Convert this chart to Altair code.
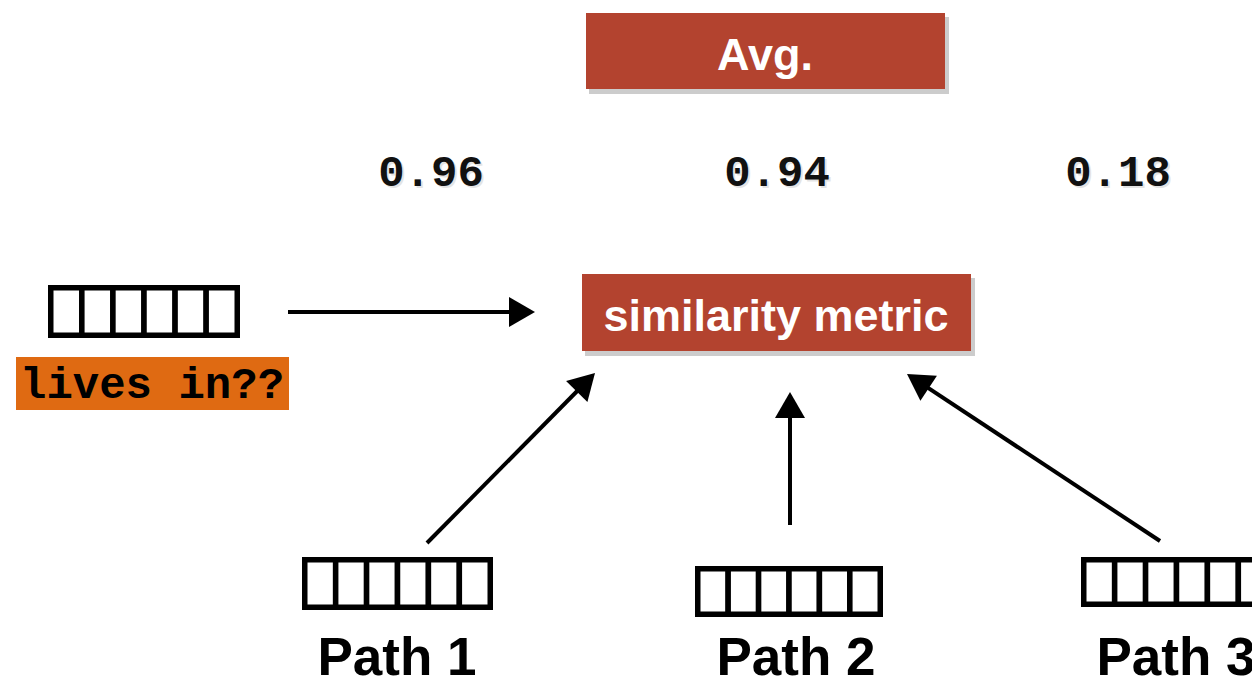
import math
import altair as alt
import pandas as pd

# ---- diagram content (screen-pixel coordinates) ----
box_labels = ["Avg.", "similarity metric"]
box_x1 = [586, 582]
box_x2 = [945, 971]
box_y1 = [13, 274]
box_y2 = [89, 351]
box_text_x = [765, 776]
box_text_y = [70, 331]

scores = ["0.96", "0.94", "0.18"]
score_x = [431, 777, 1118]
score_y = [186, 186, 186]

query_label = ["lives in??"]
query_box = [16, 357, 289, 410]  # x1, y1, x2, y2
query_text = [20, 398]

vec_names = ["query", "path1", "path2", "path3"]
vec_x1 = [48, 302, 695, 1081]
vec_x2 = [240, 493, 883, 1272]
vec_y1 = [285, 557, 566, 557]
vec_y2 = [338, 610, 617, 607]
n_cells = 6

path_labels = ["Path 1", "Path 2", "Path 3"]
path_x = [397, 796, 1176]
path_y = [675, 675, 675]

arrow_x0 = [288, 427, 790, 1160]
arrow_y0 = [312, 543, 525, 541]
arrow_tx = [535, 595, 790, 907]
arrow_ty = [312, 373, 392, 374]

RED = "#B3432F"
ORANGE = "#DF6A12"
SANS = "Liberation Sans"
MONO = "Liberation Mono"

XD = [8, 1252]
YD = [8, 687]
xs = alt.Scale(domain=XD, nice=False, zero=False)
ys = alt.Scale(domain=YD, nice=False, zero=False, reverse=True)


def X(f):
    return alt.X(f, type="quantitative", scale=xs, axis=None)


def Y(f):
    return alt.Y(f, type="quantitative", scale=ys, axis=None)


# ---- tables ----
boxes = pd.DataFrame({"label": box_labels, "x1": box_x1, "x2": box_x2,
                      "y1": box_y1, "y2": box_y2,
                      "tx": box_text_x, "ty": box_text_y})
boxes["sx1"] = boxes.x1 + 3
boxes["sx2"] = boxes.x2 + 4
boxes["sy1"] = boxes.y1 + 4
boxes["sy2"] = boxes.y2 + 5

score_df = pd.DataFrame({"s": scores, "x": score_x, "y": score_y})

query_df = pd.DataFrame({"label": query_label,
                         "x1": [query_box[0]], "y1": [query_box[1]],
                         "x2": [query_box[2]], "y2": [query_box[3]],
                         "tx": [query_text[0]], "ty": [query_text[1]]})

cells = []
sw = 5.5
for name, a, b, c, d in zip(vec_names, vec_x1, vec_x2, vec_y1, vec_y2):
    left, right = a + sw / 2, b - sw / 2
    top, bot = c + sw / 2, d - sw / 2
    w = (right - left) / n_cells
    for i in range(n_cells):
        cells.append({"vec": name, "x1": left + i * w, "x2": left + (i + 1) * w,
                      "y1": top, "y2": bot})
cell_df = pd.DataFrame(cells)

path_df = pd.DataFrame({"label": path_labels, "x": path_x, "y": path_y})

HEAD = 900
heads = []
for x0, y0, tx, ty in zip(arrow_x0, arrow_y0, arrow_tx, arrow_ty):
    dx, dy = tx - x0, ty - y0
    L = math.hypot(dx, dy)
    ux, uy = dx / L, dy / L
    ang = math.degrees(math.atan2(dx, -dy)) % 360
    off = math.sqrt(3) / 4 * math.sqrt(HEAD)
    cx, cy = tx - off * ux, ty - off * uy
    heads.append({"x0": x0, "y0": y0, "x1": cx, "y1": cy, "hx": cx, "hy": cy,
                  "angle": ang})
arrow_df = pd.DataFrame(heads)

# ---- layers ----
shadow = alt.Chart(boxes).mark_rect(color="#000000", opacity=0.2).encode(
    x=X("sx1"), x2="sx2", y=Y("sy1"), y2="sy2")
red = alt.Chart(boxes).mark_rect(color=RED).encode(
    x=X("x1"), x2="x2", y=Y("y1"), y2="y2")
red_text = alt.Chart(boxes).mark_text(
    font=SANS, fontWeight="bold", fontSize=45, color="white",
    align="center", baseline="alphabetic").encode(
    x=X("tx"), y=Y("ty"), text="label:N")

score_shadow = alt.Chart(score_df).mark_text(
    font=MONO, fontWeight="bold", fontSize=44, color="#000000", opacity=0.1,
    align="center", baseline="alphabetic", dx=2, dy=2).encode(
    x=X("x"), y=Y("y"), text="s:N")
score_text = alt.Chart(score_df).mark_text(
    font=MONO, fontWeight="bold", fontSize=44, color="#111111",
    align="center", baseline="alphabetic").encode(
    x=X("x"), y=Y("y"), text="s:N")

qbox = alt.Chart(query_df).mark_rect(color=ORANGE).encode(
    x=X("x1"), x2="x2", y=Y("y1"), y2="y2")
qtext = alt.Chart(query_df).mark_text(
    font=MONO, fontWeight="bold", fontSize=44, color="#000000",
    align="left", baseline="alphabetic").encode(
    x=X("tx"), y=Y("ty"), text="label:N")

vec = alt.Chart(cell_df).mark_rect(fill="white", stroke="black", strokeWidth=sw).encode(
    x=X("x1"), x2="x2", y=Y("y1"), y2="y2")

ptext = alt.Chart(path_df).mark_text(
    font=SANS, fontWeight="bold", fontSize=53, color="#000000",
    align="center", baseline="alphabetic").encode(
    x=X("x"), y=Y("y"), text="label:N")

shafts = alt.Chart(arrow_df).mark_rule(color="black", strokeWidth=4).encode(
    x=X("x0"), y=Y("y0"), x2="x1", y2="y1")
tips = alt.Chart(arrow_df).mark_point(
    shape="triangle-up", filled=True, size=HEAD, color="black", opacity=1).encode(
    x=X("hx"), y=Y("hy"), angle=alt.Angle("angle:Q", scale=None))

chart = alt.layer(
    shadow, red, red_text, score_shadow, score_text, qbox, qtext,
    vec, ptext, shafts, tips
).properties(
    width=XD[1] - XD[0], height=YD[1] - YD[0], padding=0,
    autosize=alt.AutoSizeParams(type="none"), background="white"
).configure_view(stroke=None)

chart.save("out.html", embed_options={"renderer": "svg", "actions": False})
